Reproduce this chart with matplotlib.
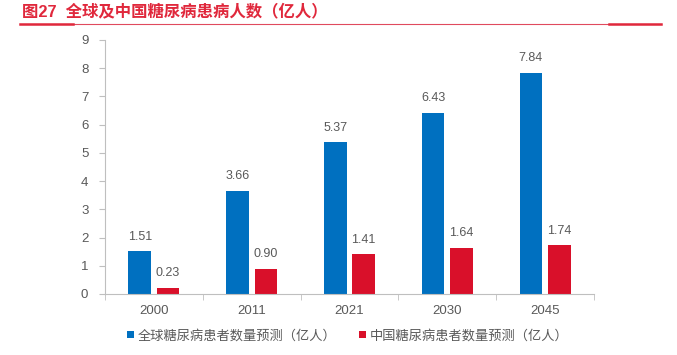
import matplotlib.pyplot as plt
from matplotlib.lines import Line2D
import numpy as np

plt.rcParams['font.family'] = ['Liberation Sans', 'Noto Sans CJK SC', 'DejaVu Sans']

years = ['2000', '2011', '2021', '2030', '2045']
world = [1.51, 3.66, 5.37, 6.43, 7.84]
china = [0.23, 0.90, 1.41, 1.64, 1.74]
world_label = '全球糖尿病患者数量预测（亿人）'
china_label = '中国糖尿病患者数量预测（亿人）'
title = '图27  全球及中国糖尿病患病人数（亿人）'

blue = '#0070C0'
red = '#D9102A'
grey = '#595959'
axis_grey = '#BFBFBF'
title_red = '#E0283C'

fig = plt.figure(figsize=(6.77, 3.55), dpi=100)
ax = fig.add_axes([105 / 677, 1 - 294 / 355, (594 - 105) / 677, (294 - 40) / 355])

x = np.arange(len(years))
w = 0.23
off = 0.145
b1 = ax.bar(x - off, world, w, color=blue, label=world_label)
b2 = ax.bar(x + off, china, w, color=red, label=china_label)

for bars, vals in ((b1, world), (b2, china)):
    for rect, v in zip(bars, vals):
        ax.annotate(f'{v:.2f}', (rect.get_x() + rect.get_width() / 2, v),
                    xytext=(0, 6), textcoords='offset points',
                    ha='center', va='bottom', fontsize=9, color=grey)

ax.set_xlim(-0.5, len(years) - 0.5)
ax.set_ylim(0, 9)
ax.set_yticks(range(0, 10))
ax.set_xticks(x)
ax.set_xticklabels(years)
ax.set_xticks(np.arange(-0.5, len(years), 1), minor=True)
ax.tick_params(axis='x', which='major', length=0, pad=8, labelsize=9.5, labelcolor=grey)
ax.tick_params(axis='x', which='minor', length=4, color=axis_grey, direction='out')
ax.tick_params(axis='y', length=4, color=axis_grey, labelsize=9.5, labelcolor=grey, pad=8)
for s in ['top', 'right']:
    ax.spines[s].set_visible(False)
for s in ['left', 'bottom']:
    ax.spines[s].set_color(axis_grey)
    ax.spines[s].set_linewidth(0.8)

fig.legend(handles=[b1, b2], loc='center', bbox_to_anchor=(348 / 677, 1 - 336 / 355),
           ncol=2, frameon=False, fontsize=9.5, handlelength=0.5, handleheight=0.5,
           handletextpad=0.3, columnspacing=1.7, labelcolor=grey)

# title and rule lines
fig.text(22 / 677, 1 - 11 / 355, title, fontsize=11.8, fontweight='bold', color=title_red,
         va='center', ha='left')
fig.add_artist(Line2D([20 / 677, 661 / 677], [1 - 23.5 / 355] * 2, color='#E04A5E', lw=0.8))
fig.add_artist(Line2D([20 / 677, 73 / 677], [1 - 24 / 355] * 2, color=title_red, lw=1.8))
fig.add_artist(Line2D([609 / 677, 661 / 677], [1 - 24 / 355] * 2, color=title_red, lw=1.8))

fig.savefig('out.png', dpi=100)
